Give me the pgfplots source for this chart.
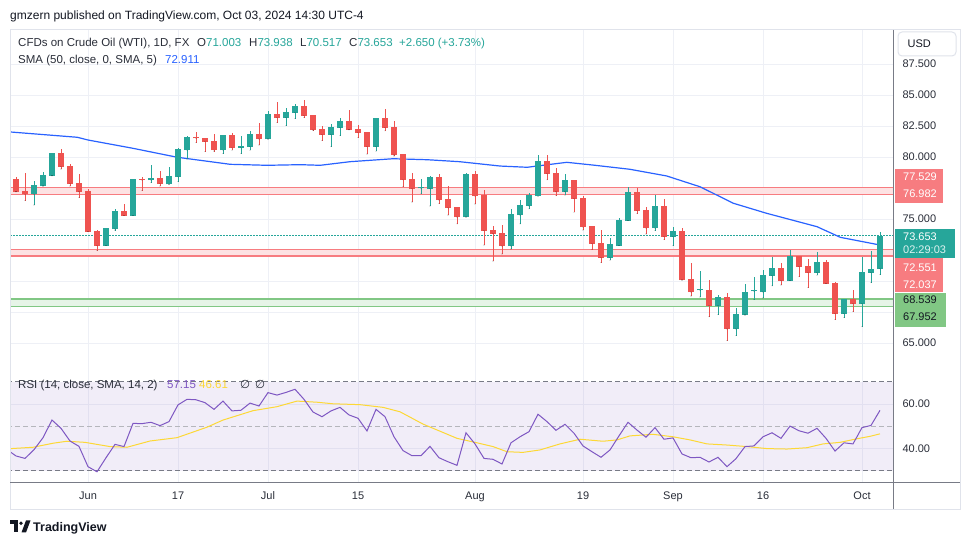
\documentclass[border=0pt]{standalone}
\usepackage{pgfplots}
\pgfplotsset{compat=1.18}
\usepackage{pgfplotstable}
\usepackage{fontspec}
\setmainfont{Liberation Sans}
\newfontfamily\dejavu{DejaVu Sans}
\definecolor{upc}{HTML}{26A69A}
\definecolor{dnc}{HTML}{EF5350}
\definecolor{smac}{HTML}{2962FF}
\definecolor{bandr}{HTML}{F77C80}
\definecolor{bandrf}{HTML}{FDE2E3}
\definecolor{bandg}{HTML}{81C784}
\definecolor{bandgf}{HTML}{E6F4E7}
\definecolor{gridc}{HTML}{EEF0F6}
\definecolor{txt}{HTML}{131722}
\definecolor{txt2}{HTML}{2A2E39}
\definecolor{scalec}{HTML}{787B86}
\definecolor{framec}{HTML}{E0E3EB}
\definecolor{rsic}{HTML}{7E57C2}
\definecolor{rsima}{HTML}{FDD835}

\pgfplotsset{candle/.style={only marks, mark=*, mark size=0.01pt, mark options={draw=none, fill=none}, forget plot,
  error bars/.cd, y dir=plus, y explicit, error mark=none}}

% green (up) candles: index, open, high, low, close
\pgfplotstableread{
i o h l c
2 76.99 78.06 76.13 77.74
3 77.66 78.79 77.66 78.55
4 78.49 80.32 78.49 80.32
10 72.85 74.27 72.85 74.27
11 74.19 75.81 74.06 75.64
13 75.27 78.23 75.27 78.23
15 78.14 79.35 77.93 78.30
17 77.80 79.19 77.80 78.47
18 78.39 80.73 78.01 80.65
19 80.56 81.69 79.84 81.61
23 80.56 81.77 80.27 81.77
25 80.73 81.69 80.27 80.89
26 80.83 82.10 80.56 81.85
28 81.45 83.71 81.45 83.47
30 83.17 83.95 82.53 83.63
31 83.58 84.27 83.09 84.11
35 81.80 82.66 80.83 82.42
36 82.37 83.14 81.72 82.90
40 80.83 83.15 80.48 83.15
45 77.47 78.23 77.02 77.55
46 77.45 78.47 76.05 78.39
50 75.16 78.74 75.16 78.66
55 72.82 75.81 72.58 75.40
56 75.32 76.53 74.60 76.13
57 76.05 77.10 75.81 76.93
58 76.85 80.16 76.85 79.68
61 77.20 78.63 76.93 78.15
66 71.88 73.47 71.69 72.98
67 72.85 75.08 72.85 74.92
68 74.87 77.58 74.87 77.18
71 74.27 76.93 74.06 76.05
73 73.58 74.35 72.85 74.03
76 69.24 70.81 68.71 69.32
78 68.01 68.87 67.29 68.74
80 66.13 67.85 65.59 67.34
81 67.26 69.76 67.26 69.11
82 69.16 70.35 68.50 69.26
83 69.11 70.89 68.63 70.48
84 70.43 71.96 69.60 71.05
86 70.03 72.53 70.03 72.02
89 70.67 72.34 70.48 71.53
92 67.37 68.55 67.04 68.55
94 68.17 71.94 66.32 70.73
95 70.67 72.42 69.87 70.99
96 71.003 73.938 70.517 73.653
}\up

% red (down) candles: index, open, high, low, close
\pgfplotstableread{
i o h l c
0 78.23 78.39 77.20 77.20
1 77.26 78.71 76.48 76.99
5 80.32 80.65 79.03 79.22
6 79.27 79.44 77.66 77.85
7 77.88 78.63 76.72 77.20
8 77.26 77.42 73.98 73.98
9 74.00 74.11 72.45 72.85
12 75.64 76.21 75.27 75.27
14 78.25 78.41 77.29 78.14
16 78.30 78.87 77.66 77.85
20 81.61 82.02 81.16 81.50
21 81.53 81.53 80.43 81.24
22 81.29 81.85 80.43 80.56
24 81.77 81.93 80.56 80.73
27 81.85 82.74 80.97 81.45
29 83.47 84.44 82.77 83.17
32 84.11 84.60 83.17 83.33
33 83.39 83.39 82.12 82.18
34 82.26 82.50 81.32 81.80
37 82.90 83.79 82.20 82.20
38 82.26 82.61 81.56 81.96
39 82.02 82.02 80.24 80.83
41 83.15 83.87 82.10 82.37
42 82.42 82.90 80.08 80.16
43 80.24 80.24 77.61 78.15
44 78.23 78.71 76.37 77.45
47 78.39 78.63 76.24 76.53
48 76.61 77.66 75.32 75.89
49 75.97 75.97 74.60 75.16
51 78.63 78.87 76.21 76.85
52 76.93 77.34 72.90 74.06
53 74.11 74.43 71.61 73.82
54 73.87 74.52 72.18 72.82
59 79.68 80.16 78.15 78.66
60 78.71 79.11 76.88 77.20
62 78.15 78.15 75.56 76.64
63 76.69 76.85 74.11 74.35
64 74.43 74.43 72.53 73.01
65 73.06 74.11 71.48 71.88
69 77.18 77.50 75.43 75.67
70 75.75 75.97 73.79 74.27
72 76.05 76.61 73.33 73.58
74 74.03 74.25 70.08 70.08
75 70.16 71.45 68.79 69.11
77 69.27 70.08 67.12 68.01
79 68.74 69.01 65.19 66.13
85 71.05 71.45 69.68 70.03
87 72.02 72.02 70.35 71.16
88 71.21 71.77 69.46 70.67
90 71.53 71.69 69.79 69.79
91 69.87 69.95 66.88 67.37
93 68.55 69.27 67.53 68.17
}\dn

\begin{document}
\begin{tikzpicture}[x=1pt,y=1pt]
\fill[white] (0,0) rectangle (970,545);

% ---------------- price pane ----------------
\begin{axis}[
  at={(10pt,175pt)}, anchor=south west, scale only axis,
  width=883pt, height=340pt,
  xmin=-0.667, xmax=97.444, ymin=62.823, ymax=90.242,
  axis line style={draw=none}, major tick length=0pt,
  xtick={8,18,28,38,51,63,73,83,94}, xticklabel=\empty,
  ytick={65,67.5,70,72.5,75,77.5,80,82.5,85,87.5},
  yticklabels={65.000,,,,75.000,,80.000,82.500,85.000,87.500},
  yticklabel pos=right,
  yticklabel style={font=\fontsize{11}{13}\selectfont, text=txt2, anchor=west, xshift=6pt},
  grid=major, major grid style={gridc, line width=0.9pt},
]
% resistance / support bands
\addplot[draw=none, fill=bandrf, forget plot] coordinates {(-1,76.982) (98,76.982) (98,77.529) (-1,77.529)} -- cycle;
\addplot[bandr, line width=1.7pt, forget plot] coordinates {(-1,77.529) (98,77.529)};
\addplot[bandr, line width=1.7pt, forget plot] coordinates {(-1,76.982) (98,76.982)};
\addplot[draw=none, fill=bandrf, forget plot] coordinates {(-1,72.037) (98,72.037) (98,72.551) (-1,72.551)} -- cycle;
\addplot[bandr, line width=1.7pt, forget plot] coordinates {(-1,72.551) (98,72.551)};
\addplot[bandr, line width=1.7pt, forget plot] coordinates {(-1,72.037) (98,72.037)};
\addplot[draw=none, fill=bandgf, forget plot] coordinates {(-1,67.952) (98,67.952) (98,68.539) (-1,68.539)} -- cycle;
\addplot[bandg, line width=1.7pt, forget plot] coordinates {(-1,68.539) (98,68.539)};
\addplot[bandg, line width=1.7pt, forget plot] coordinates {(-1,67.952) (98,67.952)};
% last price line
\addplot[upc, line width=1.3pt, dash pattern=on 1.5pt off 1.5pt, forget plot] coordinates {(-1,73.653) (98,73.653)};
% SMA 50
\addplot[smac, line width=1.2pt, forget plot] coordinates {
(-0.667,82.02) (6.8,81.59) (8,81.37) (13,80.70) (17.9,79.98) (23.8,79.41) (27.9,79.33)
(31.6,79.38) (33.8,79.33) (37.1,79.62) (41.9,79.86) (45.7,79.78) (49.3,79.62) (53.8,79.27)
(56.8,79.17) (58.2,79.30) (61.2,79.57) (64.1,79.35) (68.2,79.01) (72.3,78.47) (76,77.60)
(79.7,76.27) (83.4,75.46) (89,74.38) (91.6,73.52) (95.8,72.93) (96,72.911)};
% wicks
\addplot[candle, error bar style={line width=1pt, draw=upc, solid}]
  table[x=i, y=l, y error expr=\thisrow{h}-\thisrow{l}] {\up};
\addplot[candle, error bar style={line width=1pt, draw=dnc, solid}]
  table[x=i, y=l, y error expr=\thisrow{h}-\thisrow{l}] {\dn};
% bodies
\addplot[candle, error bar style={line width=6.8pt, draw=upc, solid}]
  table[x=i, y=o, y error expr=\thisrow{c}-\thisrow{o}] {\up};
\addplot[candle, error bar style={line width=6.8pt, draw=dnc, solid}]
  table[x=i, y=c, y error expr=\thisrow{o}-\thisrow{c}] {\dn};
\end{axis}

% ---------------- RSI pane ----------------
\begin{axis}[
  at={(10pt,62.3pt)}, anchor=south west, scale only axis,
  width=883pt, height=112.7pt,
  xmin=-0.667, xmax=97.444, ymin=24.71, ymax=75.25,
  axis line style={draw=none}, major tick length=0pt,
  xtick={8,18,28,38,51,63,73,83,94},
  xticklabels={Jun,17,Jul,15,Aug,19,Sep,16,Oct},
  xticklabel style={font=\fontsize{11}{13}\selectfont, text=txt2, yshift=-5.6pt},
  ytick={40,60}, yticklabels={40.00,60.00}, yticklabel pos=right,
  yticklabel style={font=\fontsize{11}{13}\selectfont, text=txt2, anchor=west, xshift=6pt},
  grid=major, major grid style={gridc, line width=0.9pt},
]
\addplot[draw=none, fill=rsic, fill opacity=0.1, forget plot] coordinates {(-1,30) (98,30) (98,70) (-1,70)} -- cycle;
\addplot[scalec, line width=0.9pt, dash pattern=on 5pt off 3pt, forget plot] coordinates {(-1,70) (98,70)};
\addplot[scalec!55, line width=0.9pt, dash pattern=on 5pt off 3pt, forget plot] coordinates {(-1,50) (98,50)};
\addplot[scalec, line width=0.9pt, dash pattern=on 5pt off 3pt, forget plot] coordinates {(-1,30) (98,30)};
% RSI-based SMA
\addplot[rsima, line width=1pt, forget plot] coordinates {
(-0.56,40.0) (1.89,40.6) (4.11,42.4) (5.67,43.3) (7.67,42.8) (10.44,40.9) (12.33,40.6)
(14.89,43.4) (17.89,44.9) (21.22,49.6) (23.0,52.8) (26.33,57.0) (29.0,58.8) (31.22,61.3)
(33.44,60.8) (35.22,60.1) (38.22,59.7) (40.78,58.5) (42.67,56.5) (45.22,51.0) (49.0,44.6)
(51.22,42.6) (53.0,40.9) (54.56,38.6) (56.33,38.3) (58.22,39.4) (60.44,42.1) (62.67,44.2)
(65.22,43.3) (66.78,43.9) (68.22,45.7) (70.78,46.4) (73.0,45.3) (74.89,43.9) (76.78,42.1)
(79.0,41.6) (81.22,40.9) (83.44,40.0) (85.67,39.8) (87.89,40.4) (89.67,42.1) (91.56,42.8)
(93.44,44.4) (94.89,45.5) (96,46.61)};
% RSI 14
\addplot[rsic, line width=1pt, forget plot] coordinates {
(-0.667,38.6) (0,36.7) (1,35.6) (2,39.5) (3,44.9) (4,52.8) (5,49.1) (6,43.4) (7,41.0) (8,31.9)
(9,29.6) (10,35.9) (11,41.9) (12,40.9) (13,51.3) (14,51.2) (15,51.8) (16,50.3) (17,52.1)
(18,59.6) (19,62.1) (20,61.9) (21,60.6) (22,57.6) (23,61.3) (24,56.9) (25,57.2) (26,60.4)
(27,59.1) (28,65.1) (29,64.0) (30,65.2) (31,66.6) (32,62.1) (33,56.4) (34,54.3) (35,56.9)
(36,58.5) (37,55.1) (38,53.6) (39,47.9) (40,57.6) (41,54.3) (42,45.3) (43,39.1) (44,36.8)
(45,36.8) (46,41.0) (47,35.9) (48,34.1) (49,32.5) (50,47.1) (51,42.1) (52,35.6) (53,35.2)
(54,33.1) (55,42.6) (56,45.3) (57,47.6) (58,55.4) (59,52.1) (60,48.2) (61,50.9) (62,46.9)
(63,41.2) (64,38.6) (65,36.1) (66,39.4) (67,45.7) (68,51.8) (69,48.3) (70,45.1) (71,49.4)
(72,44.2) (73,44.8) (74,37.6) (75,35.9) (76,36.1) (77,34.0) (78,36.1) (79,31.9) (80,35.5)
(81,40.9) (82,41.2) (83,45.3) (84,47.1) (85,44.6) (86,50.1) (87,48.0) (88,46.9) (89,49.1)
(90,44.6) (91,38.9) (92,42.6) (93,42.1) (94,49.4) (95,50.4) (96,57.15)};
\end{axis}

% ---------------- frame and scales ----------------
\draw[framec, line width=1pt] (10,515) rectangle (960,35.5);
\draw[scalec, line width=1pt] (893,515) -- (893,35.5);
\draw[scalec, line width=1pt] (10,62.3) -- (960,62.3);

% USD box
\filldraw[fill=white, draw=framec, line width=1pt, rounded corners=4pt] (898,513) rectangle (956,489);
\node[anchor=base west, inner sep=0, text=txt, font=\fontsize{11}{13}\selectfont] at (907.5,497) {USD};

% price tags
\fill[bandr] (895,375.7) rectangle (943,342.3);
\node[anchor=base west, inner sep=0, text=white, font=\fontsize{11}{13}\selectfont] at (903,364.3) {77.529};
\node[anchor=base west, inner sep=0, text=white, font=\fontsize{11}{13}\selectfont] at (903,347) {76.982};
\fill[upc] (895,316) rectangle (955,286.7);
\node[anchor=base west, inner sep=0, text=white, font=\fontsize{11}{13}\selectfont] at (903,304.3) {73.653};
\node[anchor=base west, inner sep=0, text=white!85!upc, font=\fontsize{11}{13}\selectfont] at (903,291) {02:29:03};
\fill[bandr] (895,286.7) rectangle (943,253.3);
\node[anchor=base west, inner sep=0, text=white, font=\fontsize{11}{13}\selectfont] at (903,273.3) {72.551};
\node[anchor=base west, inner sep=0, text=white, font=\fontsize{11}{13}\selectfont] at (903,256) {72.037};
\fill[bandg] (895,251.7) rectangle (946,217.7);
\node[anchor=base west, inner sep=0, text=txt, font=\fontsize{11}{13}\selectfont] at (903,241) {68.539};
\node[anchor=base west, inner sep=0, text=txt, font=\fontsize{11}{13}\selectfont] at (903,224) {67.952};

% header and legends
\node[anchor=base west, inner sep=0, text=txt, font=\fontsize{12}{14}\selectfont] at (10,525.8)
  {gmzern published on TradingView.com, Oct 03, 2024 14:30 UTC-4};
\begin{scope}[every node/.style={anchor=base west, inner sep=0, font=\fontsize{11.5}{14}\selectfont}]
\node[text=txt2] at (18,498.8) {CFDs on Crude Oil (WTI), 1D, FX};
\node at (197,498.8) {\textcolor{txt2}{O}\textcolor{upc}{71.003}};
\node at (249,498.8) {\textcolor{txt2}{H}\textcolor{upc}{73.938}};
\node at (300,498.8) {\textcolor{txt2}{L}\textcolor{upc}{70.517}};
\node at (349,498.8) {\textcolor{txt2}{C}\textcolor{upc}{73.653}};
\node[text=upc] at (399,498.8) {+2.650 (+3.73\%)};
\node[text=txt2] at (18,481.8) {SMA (50, close, 0, SMA, 5)};
\node[text=smac] at (165,481.8) {72.911};
\node[text=txt2] at (18,156) {RSI (14, close, SMA, 14, 2)};
\node[text=rsic] at (167,156) {57.15};
\node[text=rsima] at (199,156) {46.61};
\node[text=txt2] at (240,156) {\dejavu ∅};
\node[text=txt2] at (255,156) {\dejavu ∅};
\end{scope}

% footer logo
\fill[txt] (10,24.5) rectangle (18,21);
\fill[txt] (14,24.5) rectangle (18,12.5);
\fill[txt] (21,21.8) circle (1.9);
\fill[txt] (21.5,12.5) -- (26,24.5) -- (30.5,24.5) -- (26,12.5) -- cycle;
\node[anchor=base west, inner sep=0, text=txt, font=\bfseries\fontsize{12.5}{14}\selectfont] at (33,13.5) {TradingView};

\pgfresetboundingbox
\path[use as bounding box] (0,0) rectangle (970,545);
\end{tikzpicture}
\end{document}
